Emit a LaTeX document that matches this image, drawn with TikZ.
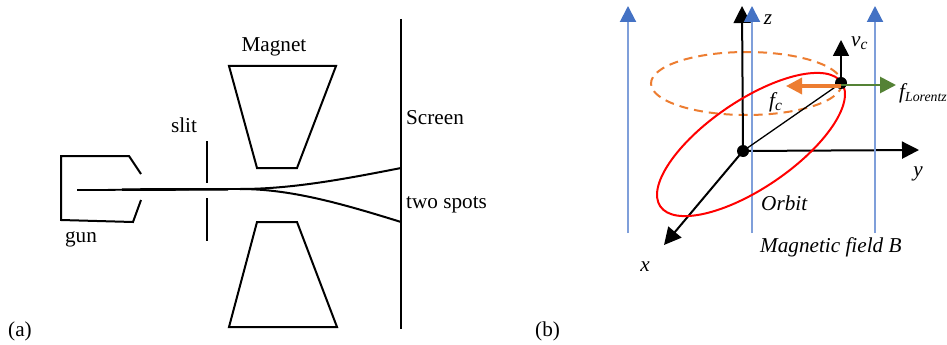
\documentclass[tikz,border=0pt]{standalone}
\usepackage{fontspec}
\setmainfont{Liberation Serif}
\usetikzlibrary{arrows.meta,shapes.geometric}
\definecolor{fieldline}{HTML}{7F9FDA}
\definecolor{fieldhead}{HTML}{4472C4}
\definecolor{orangec}{HTML}{ED7D31}
\definecolor{greenc}{HTML}{548235}
\tikzset{
  x=1pt,y=-1pt,
  lbl/.style={font=\fontsize{21.2}{24}\selectfont,inner sep=0pt},
  ilbl/.style={font=\fontsize{21.2}{24}\selectfont\itshape,inner sep=0pt},
  part/.style={draw=black,line width=2pt,line join=miter},
  fieldarrow/.style={draw=fieldline,line width=2pt,-{Triangle[length=16pt,width=16pt,color=fieldhead]}},
  axis/.style={draw=black,line width=2pt,-{Triangle[length=17pt,width=17pt]}},
  dotnode/.style={circle,fill=black,inner sep=0pt,minimum size=#1}
}
\begin{document}
\begin{tikzpicture}
\useasboundingbox (0,0) rectangle (947,345);
\fill[white] (0,0) rectangle (947,345);
% (a) gun
\coordinate (g1) at (141,174);\coordinate (g2) at (129,156);\coordinate (g3) at (61,156);
\coordinate (g4) at (61,220);\coordinate (g5) at (133,222);\coordinate (g6) at (141,200);
\draw[part] (g1)--(g2)--(g3)--(g4)--(g5)--(g6);
% slit
\coordinate (s1) at (207,141);\coordinate (s2) at (207,183);
\coordinate (s3) at (207,198);\coordinate (s4) at (207,241);
\draw[part] (s1)--(s2);
\draw[part] (s3)--(s4);
% magnets
\coordinate (m1) at (229,66);\coordinate (m2) at (336,66);\coordinate (m3) at (297,168);\coordinate (m4) at (257,168);
\draw[part] (m1)--(m2)--(m3)--(m4)--cycle;
\coordinate (n1) at (257,222);\coordinate (n2) at (297,222);\coordinate (n3) at (337,327);\coordinate (n4) at (229,327);
\draw[part] (n1)--(n2)--(n3)--(n4)--cycle;
% screen
\coordinate (sc1) at (401,19);\coordinate (sc2) at (401,329);
\draw[part] (sc1)--(sc2);
% beam
\coordinate (b0) at (77,190);\coordinate (b1) at (93,190);\coordinate (b3) at (228,189.3);\coordinate (b2) at (240,189);
\coordinate (u) at (401,168);\coordinate (d) at (401,222);
\draw[line width=2.8pt] (b0)--(b1);
\draw[line width=1.8pt] (b1)--(b2);
\draw[line width=2.6pt] (122,189.6)--(b3);
\draw[line width=2pt] (b2) .. controls (290,189) and (340,180) .. (u);
\draw[line width=2pt] (b2) .. controls (290,189) and (340,203) .. (d);
% labels a
\node[lbl] (magnet) at (274,47) {Magnet};
\node[lbl] (slit) at (184,125) {slit};
\node[lbl,anchor=base west] (screen) at (406,124) {Screen};
\node[lbl,anchor=base west] (spots) at (406,208) {two spots};
\node[lbl] (gun) at (81,239) {gun};
\node[lbl,anchor=base west] (a) at (8,336) {(a)};
\node[lbl,anchor=base west] (bb) at (535,336) {(b)};
% (b) field
\coordinate (f1b) at (628,233);\coordinate (f1t) at (628,6);
\coordinate (f2b) at (752,233);\coordinate (f2t) at (752,6);
\coordinate (f3b) at (875,233);\coordinate (f3t) at (875,6);
% orbits
\draw[orangec,line width=2pt,dash pattern=on 9pt off 6pt] (746.5,83.5) ellipse [x radius=95.5,y radius=31.5];
% axes
\node[dotnode=12pt] (o) at (743,151) {};
\coordinate (zt) at (742,6);\coordinate (yt) at (919,150);\coordinate (xt) at (664,245);
\draw[axis] (o.center)--(zt);
\draw[axis] (o.center)--(yt);
\draw[axis] (o.center)--(xt);
\draw[fieldarrow] (f1b)--(f1t);
\draw[fieldarrow] (f2b)--(f2t);
\draw[fieldarrow] (f3b)--(f3t);
\begin{scope}[shift={(751,144.5)},rotate=34.3]
\draw[red,line width=2pt] (0,0) ellipse [x radius=109.8,y radius=43.6];
\end{scope}
\node[dotnode=12pt] (p) at (841,83) {};
\coordinate (vt) at (841,40);\coordinate (ft) at (786,86);\coordinate (lt) at (896,85);
\draw[line width=1.3pt] (o.center)--(p.center);
\draw[draw=black,line width=1.6pt,-{Triangle[length=16pt,width=16pt]}] (p.center)--(vt);
\draw[draw=orangec,line width=3.4pt,-{Triangle[length=16pt,width=16pt]}] (p.center|-ft)--(ft);
\draw[draw=greenc,line width=2.8pt,-{Triangle[length=16pt,width=16pt]}] (p.center|-lt)--(lt);
% labels b
\node[ilbl] (zl) at (768,20) {z};
\node[ilbl,anchor=base west] (vl) at (851,47) {v\raisebox{-3pt}{\fontsize{15.5}{15}\selectfont c}};
\node[ilbl,anchor=base west] (fc) at (769,107) {f\raisebox{-3pt}{\fontsize{15.5}{15}\selectfont c}};
\node[ilbl,anchor=base west] (fl) at (899,98) {f\raisebox{-3pt}{\fontsize{13.8}{14}\selectfont Lorentz}};
\node[ilbl] (yl) at (918,174) {y};
\node[ilbl,anchor=base west] (orbit) at (761,210) {Orbit};
\node[ilbl,anchor=base west] (mf) at (760,252) {Magnetic field B};
\node[ilbl] (xl) at (645,267) {x};
\end{tikzpicture}
\end{document}
